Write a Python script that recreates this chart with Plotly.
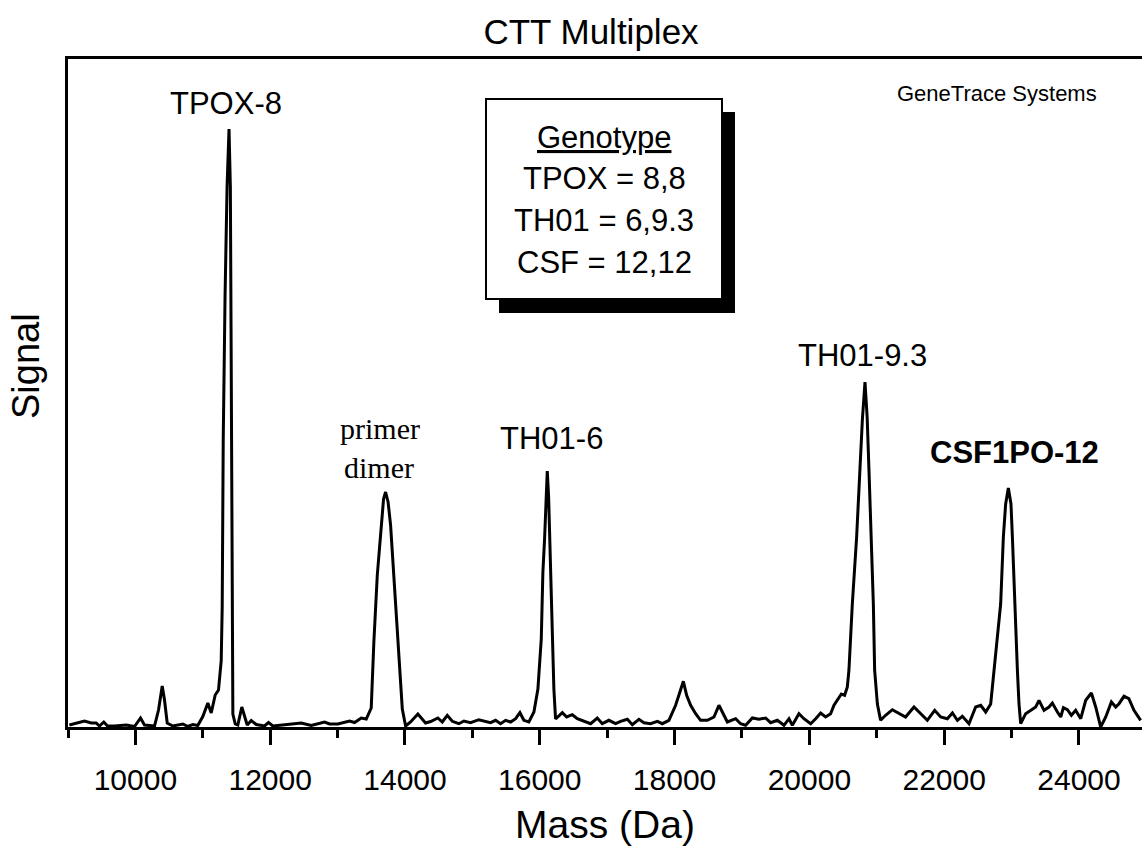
import plotly.graph_objects as go

# ---- data (mass in Da, signal in arbitrary units) ----
mass_da = [
    9020, 9245, 9344, 9418, 9467, 9531, 9586, 9690, 9864, 9987,
    10076, 10135, 10284, 10343, 10398, 10432, 10472, 10555, 10704, 10778,
    10852, 10926, 11000, 11075, 11125, 11184, 11233, 11273, 11288, 11303,
    11330, 11360, 11389, 11409, 11419, 11429, 11438, 11446, 11481, 11520,
    11579, 11619, 11659, 11719, 11793, 11916, 11975, 12039, 12213, 12461,
    12609, 12806, 12881, 13004, 13177, 13252, 13351, 13425, 13499, 13538,
    13589, 13638, 13682, 13712, 13749, 13786, 13835, 13894, 13960, 14009,
    14083, 14191, 14305, 14380, 14488, 14553, 14627, 14702, 14800, 14874,
    14973, 15096, 15171, 15270, 15344, 15418, 15493, 15567, 15641, 15705,
    15764, 15838, 15913, 15972, 16022, 16046, 16071, 16091, 16111, 16131,
    16150, 16165, 16186, 16209, 16234, 16334, 16398, 16482, 16557, 16655,
    16754, 16853, 16927, 17025, 17125, 17199, 17299, 17373, 17471, 17545,
    17644, 17744, 17818, 17916, 18015, 18079, 18130, 18179, 18238, 18312,
    18386, 18486, 18584, 18658, 18723, 18783, 18906, 18980, 19054, 19154,
    19251, 19351, 19425, 19525, 19623, 19697, 19747, 19845, 19919, 20019,
    20093, 20167, 20241, 20315, 20365, 20415, 20474, 20523, 20563, 20587,
    20637, 20701, 20750, 20786, 20825, 20857, 20884, 20919, 20949, 20968,
    21009, 21056, 21131, 21231, 21329, 21427, 21552, 21651, 21750, 21859,
    21948, 22047, 22122, 22196, 22270, 22368, 22467, 22542, 22616, 22690,
    22739, 22789, 22838, 22878, 22912, 22952, 22991, 23012, 23046, 23086,
    23110, 23135, 23209, 23284, 23358, 23407, 23481, 23555, 23605, 23680,
    23729, 23769, 23828, 23887, 23951, 24026, 24100, 24184, 24248, 24322,
    24397, 24481, 24545, 24594, 24668, 24740, 24816, 24915,
]
signal = [
    2, 6, 4, 4, 1, 5, 1, 1, 2, 0.5,
    9, 2, 1, 17, 41, 27, 4, 1, 3, 0.5,
    2.5, 1.5, 10.5, 24, 14, 32, 37, 66, 120, 286,
    430, 540, 598, 540, 400, 250, 100, 13, 3, 2,
    20, 10, 2, 6.5, 2.5, 1, 4.5, 1, 2.5, 4,
    1.5, 5, 3, 3, 6, 4.5, 9, 8, 19, 85,
    152, 195, 228, 235, 225, 202, 152, 85, 18, 1,
    5, 13, 4, 5.5, 9, 5, 11.7, 5.7, 3.3, 6,
    4.3, 7.3, 5.7, 4.3, 6.7, 3.3, 6.7, 5, 8.3, 14.3,
    6.7, 5, 15, 38, 88, 155, 188, 222, 256, 230,
    188, 140, 88, 38, 8, 14.3, 10, 12.3, 8.3, 5.7,
    3.3, 9, 3.3, 6.7, 3.3, 5.7, 7.7, 2.3, 7.7, 4.3,
    3.3, 5.7, 3.3, 6.7, 21.7, 35, 45.7, 31.7, 21.7, 13.3,
    6.7, 6.7, 10, 21.7, 13.3, 5, 8.3, 3.3, 1.7, 9,
    7.7, 9, 4.3, 6.7, 1.7, 8.3, 1.7, 13.3, 8.3, 3.3,
    8.3, 14, 10, 13.3, 21.7, 26.7, 33, 31.7, 40, 57,
    123, 190, 257, 307, 345, 310, 257, 190, 123, 57,
    23, 6.7, 11.7, 17.3, 13.3, 10, 20, 13.3, 6.7, 16.7,
    10, 8.3, 14, 6.7, 10.7, 3.3, 20, 21.7, 15, 23,
    57, 90, 123, 190, 223, 239, 223, 190, 123, 57,
    23, 3.3, 13.3, 16.7, 20, 26.7, 16.7, 20, 24, 15,
    10, 19.3, 17.3, 11.7, 16.7, 8.3, 26.7, 34, 20, 0,
    10, 25, 20, 23.3, 30.7, 28.3, 16.7, 6.7,
]

tick_vals = [10000, 12000, 14000, 16000, 18000, 20000, 22000, 24000]
tick_text = ["10000", "12000", "14000", "16000", "18000", "20000", "22000", "24000"]

peak_labels = ["TPOX-8", "TH01-6", "TH01-9.3", "CSF1PO-12"]
peak_label_mass = [11341, 16177, 20795, 23036]
peak_label_signal = [624, 289, 372, 275]
peak_label_bold = [False, False, False, True]

genotype_lines = ["<u>Genotype</u>", "TPOX = 8,8", "TH01 = 6,9.3", "CSF = 12,12"]

SANS = "Liberation Sans, Arial, sans-serif"
SERIF = "Liberation Serif, Times New Roman, serif"

# ---- layout geometry (pixels) ----
W, H = 1142, 846
ML, MR, MT, MB = 68, 0, 59, 119
PW = W - ML - MR
PH = H - MT - MB


def px_x(px):
    return (px - ML) / PW


def px_y(py):
    return (H - MB - py) / PH


fig = go.Figure()
fig.add_trace(go.Scatter(
    x=mass_da, y=signal, mode="lines",
    line=dict(color="black", width=3),
    showlegend=False, hoverinfo="x+y",
))

annotations = []
for txt, mx, sy, bold in zip(peak_labels, peak_label_mass, peak_label_signal, peak_label_bold):
    annotations.append(dict(
        x=mx, y=sy, xref="x", yref="y", showarrow=False,
        text=f"<b>{txt}</b>" if bold else txt,
        font=dict(family=SANS, size=31, color="black"),
        xanchor="center", yanchor="middle",
    ))

# primer dimer (serif, two lines)
annotations.append(dict(x=13629, y=299, xref="x", yref="y", showarrow=False, text="primer",
                        font=dict(family=SERIF, size=30, color="black"),
                        xanchor="center", yanchor="middle"))
annotations.append(dict(x=13614, y=260, xref="x", yref="y", showarrow=False, text="dimer",
                        font=dict(family=SERIF, size=30, color="black"),
                        xanchor="center", yanchor="middle"))

# genotype box text
for txt, py in zip(genotype_lines, [138, 178, 220, 262]):
    annotations.append(dict(x=px_x(604), y=px_y(py), xref="paper", yref="paper", showarrow=False,
                            text=txt, font=dict(family=SANS, size=31, color="black"),
                            xanchor="center", yanchor="middle"))

annotations.append(dict(x=px_x(997), y=px_y(93), xref="paper", yref="paper", showarrow=False,
                        text="GeneTrace Systems", font=dict(family=SANS, size=22, color="black"),
                        xanchor="center", yanchor="middle"))

# y-axis title
annotations.append(dict(x=px_x(26), y=px_y(366), xref="paper", yref="paper", showarrow=False,
                        text="Signal", textangle=-90,
                        font=dict(family=SANS, size=38, color="black"),
                        xanchor="center", yanchor="middle"))

shapes = [
    dict(type="rect", xref="paper", yref="paper",
         x0=px_x(499), x1=px_x(735), y0=px_y(313), y1=px_y(112),
         fillcolor="black", line=dict(width=0), layer="above"),
    dict(type="rect", xref="paper", yref="paper",
         x0=px_x(486), x1=px_x(722), y0=px_y(299), y1=px_y(99),
         fillcolor="white", line=dict(color="black", width=2), layer="above"),
]

fig.update_layout(
    width=W, height=H,
    margin=dict(l=ML, r=MR, t=MT, b=MB, autoexpand=False),
    paper_bgcolor="white", plot_bgcolor="white",
    hovermode=False,
    title=dict(text="CTT Multiplex", x=591 / W, y=1 - 32 / H, xref="container", yref="container",
               xanchor="center", yanchor="middle",
               font=dict(family=SANS, size=35, color="black")),
    xaxis=dict(
        range=[9000, 24935], tickmode="array", tickvals=tick_vals, ticktext=tick_text,
        ticks="outside", ticklen=15, tickwidth=2.5, tickcolor="black",
        showline=True, linewidth=2.5, linecolor="black", mirror=True,
        showgrid=False, zeroline=False,
        tickfont=dict(family=SANS, size=30, color="black"),
        ticklabelstandoff=9,
        minor=dict(tickmode="linear", tick0=9000, dtick=1000, ticks="outside", ticklen=8,
                   tickwidth=2.5, tickcolor="black", showgrid=False),
        title=dict(text="Mass (Da)", font=dict(family=SANS, size=39, color="black"), standoff=20),
        automargin=False,
    ),
    yaxis=dict(
        range=[0, PH], showline=True, linewidth=2.5, linecolor="black",
        showticklabels=False, ticks="", showgrid=False, zeroline=False,
        automargin=False,
    ),
    annotations=annotations,
    shapes=shapes,
)

fig.write_html("out.html", config={"displayModeBar": False},
               post_script="document.body.style.margin='0px';")
